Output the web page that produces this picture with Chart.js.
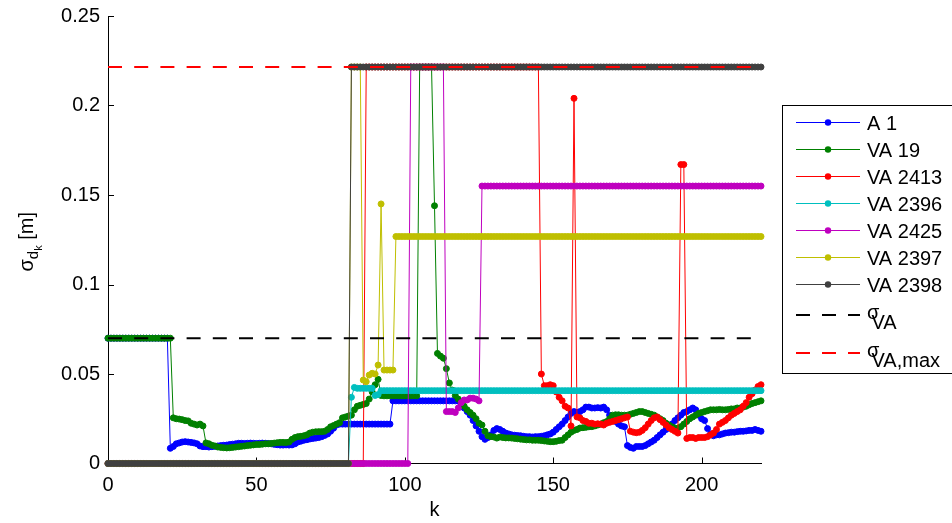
<!DOCTYPE html>
<html>
<head>
<meta charset="utf-8">
<script src="https://cdn.jsdelivr.net/npm/chart.js@4.4.1/dist/chart.umd.min.js"></script>
<style>
  html, body { margin: 0; padding: 0; background: #fff; }
  #chart { display: block; }
</style>
</head>
<body>
<canvas id="chart" width="952" height="523"></canvas>
<script>
// distance std dev per anchor, one value per step k = 0..220
const xTicks = [0, 50, 100, 150, 200];
const yTicks = [0, 0.05, 0.1, 0.15, 0.2, 0.25];

const sigmaVA = 0.07;
const sigmaVAmax = 0.2215;

const names = ['A 1', 'VA 19', 'VA 2413', 'VA 2396', 'VA 2425', 'VA 2397', 'VA 2398'];
const colors = ['#0000ff', '#008000', '#ff0000', '#00bfbf', '#bf00bf', '#bfbf00', '#404040'];

const a1 = [
  0.07, 0.07, 0.07, 0.07, 0.07, 0.07, 0.07, 0.07, 0.07, 0.07,
  0.07, 0.07, 0.07, 0.07, 0.07, 0.07, 0.07, 0.07, 0.07, 0.07,
  0.07, 0.0085, 0.0095, 0.011, 0.0115, 0.012, 0.0122, 0.012, 0.0118, 0.0115,
  0.011, 0.0098, 0.0094, 0.0094, 0.0092, 0.0094, 0.0096, 0.0098, 0.010, 0.0102,
  0.0103, 0.0106, 0.0108, 0.011, 0.0113, 0.0113, 0.0112, 0.0113, 0.0114, 0.0113,
  0.0112, 0.0113, 0.0114, 0.0113, 0.0112, 0.011, 0.0107, 0.0105, 0.0103, 0.0103,
  0.0104, 0.0103, 0.0104, 0.011, 0.012, 0.0125, 0.013, 0.0133, 0.0137, 0.014,
  0.0142, 0.0145, 0.015, 0.0157, 0.0165, 0.018, 0.0197, 0.0215, 0.022, 0.022,
  0.022, 0.022, 0.022, 0.022, 0.022, 0.022, 0.022, 0.022, 0.022, 0.022,
  0.022, 0.022, 0.022, 0.022, 0.022, 0.022, 0.035, 0.035, 0.035, 0.035,
  0.035, 0.035, 0.035, 0.035, 0.035, 0.035, 0.035, 0.035, 0.035, 0.035,
  0.035, 0.035, 0.035, 0.035, 0.035, 0.035, 0.035, 0.035, 0.035, 0.033,
  0.031, 0.029, 0.027, 0.024, 0.021, 0.018, 0.015, 0.0135, 0.0145, 0.016,
  0.0185, 0.0195, 0.019, 0.018, 0.017, 0.0165, 0.016, 0.0158, 0.0156, 0.0155,
  0.0152, 0.015, 0.015, 0.0148, 0.015, 0.015, 0.0152, 0.0155, 0.016, 0.0165,
  0.0175, 0.019, 0.0205, 0.022, 0.024, 0.026, 0.028, 0.029, 0.0285, 0.029,
  0.030, 0.0315, 0.0315, 0.031, 0.031, 0.0312, 0.031, 0.0315, 0.030, 0.027,
  0.025, 0.0235, 0.022, 0.021, 0.0205, 0.010, 0.009, 0.0085, 0.0095, 0.0095,
  0.0095, 0.010, 0.011, 0.012, 0.013, 0.0145, 0.016, 0.0175, 0.019, 0.0205,
  0.022, 0.024, 0.0255, 0.027, 0.0285, 0.029, 0.030, 0.031, 0.030, 0.027,
  0.025, 0.024, 0.0195, 0.0165, 0.0155, 0.016, 0.016, 0.0165, 0.017, 0.0172,
  0.0175, 0.0175, 0.0178, 0.018, 0.018, 0.0182, 0.0185, 0.0185, 0.019, 0.0185,
  0.018
];

const va19 = [
  0.07, 0.07, 0.07, 0.07, 0.07, 0.07, 0.07, 0.07, 0.07, 0.07,
  0.07, 0.07, 0.07, 0.07, 0.07, 0.07, 0.07, 0.07, 0.07, 0.07,
  0.07, 0.07, 0.0255, 0.025, 0.0248, 0.0245, 0.024, 0.0238, 0.0225, 0.022,
  0.0215, 0.022, 0.021, 0.0115, 0.011, 0.0102, 0.0098, 0.0092, 0.009, 0.0088,
  0.0087, 0.0088, 0.009, 0.0092, 0.0094, 0.0096, 0.0098, 0.010, 0.0102, 0.0104,
  0.0106, 0.0106, 0.0108, 0.011, 0.011, 0.0112, 0.0114, 0.0116, 0.0118, 0.0118,
  0.0117, 0.012, 0.0135, 0.0145, 0.015, 0.0152, 0.0155, 0.016, 0.017, 0.0175,
  0.0177, 0.0178, 0.0178, 0.018, 0.019, 0.0205, 0.0212, 0.022, 0.0228, 0.0255,
  0.026, 0.0265, 0.027, 0.030, 0.032, 0.0325, 0.033, 0.0335, 0.036, 0.040,
  0.044, 0.047, 0.038, 0.0378, 0.0378, 0.0378, 0.0378, 0.0378, 0.0378, 0.0378,
  0.0378, 0.0378, 0.0378, 0.0378, 0.0378, 0.2215, 0.2215, 0.2215, 0.2215, 0.2215,
  0.144, 0.0615, 0.060, 0.0588, 0.053, 0.045, 0.041, 0.038, 0.036, 0.034,
  0.032, 0.030, 0.0285, 0.027, 0.025, 0.0225, 0.0215, 0.018, 0.0155, 0.015,
  0.0148, 0.0142, 0.0148, 0.0145, 0.0143, 0.0143, 0.0142, 0.014, 0.0138, 0.0136,
  0.0134, 0.0132, 0.0132, 0.013, 0.013, 0.013, 0.0128, 0.0126, 0.0124, 0.0122,
  0.0122, 0.0124, 0.0128, 0.013, 0.0145, 0.016, 0.0175, 0.0185, 0.019, 0.0198,
  0.020, 0.0202, 0.0205, 0.0206, 0.021, 0.0215, 0.022, 0.0228, 0.0234, 0.025,
  0.027, 0.0272, 0.0272, 0.027, 0.027, 0.027, 0.0275, 0.028, 0.0285, 0.029,
  0.029, 0.0285, 0.028, 0.0275, 0.027, 0.026, 0.025, 0.024, 0.0225, 0.0215,
  0.0205, 0.0198, 0.0198, 0.0206, 0.022, 0.0235, 0.025, 0.026, 0.027, 0.028,
  0.0285, 0.029, 0.0295, 0.030, 0.030, 0.030, 0.0302, 0.030, 0.030, 0.0302,
  0.0305, 0.0305, 0.031, 0.031, 0.0315, 0.032, 0.0328, 0.0335, 0.034, 0.0345,
  0.035
];

const va2413 = [
  0, 0, 0, 0, 0, 0, 0, 0, 0, 0,
  0, 0, 0, 0, 0, 0, 0, 0, 0, 0,
  0, 0, 0, 0, 0, 0, 0, 0, 0, 0,
  0, 0, 0, 0, 0, 0, 0, 0, 0, 0,
  0, 0, 0, 0, 0, 0, 0, 0, 0, 0,
  0, 0, 0, 0, 0, 0, 0, 0, 0, 0,
  0, 0, 0, 0, 0, 0, 0, 0, 0, 0,
  0, 0, 0, 0, 0, 0, 0, 0, 0, 0,
  0, 0, 0, 0, 0, 0, 0, 0.2215, 0.2215, 0.2215,
  0.2215, 0.2215, 0.2215, 0.2215, 0.2215, 0.2215, 0.2215, 0.2215, 0.2215, 0.2215,
  0.2215, 0.2215, 0.2215, 0.2215, 0.2215, 0.2215, 0.2215, 0.2215, 0.2215, 0.2215,
  0.2215, 0.2215, 0.2215, 0.2215, 0.2215, 0.2215, 0.2215, 0.2215, 0.2215, 0.2215,
  0.2215, 0.2215, 0.2215, 0.2215, 0.2215, 0.2215, 0.2215, 0.2215, 0.2215, 0.2215,
  0.2215, 0.2215, 0.2215, 0.2215, 0.2215, 0.2215, 0.2215, 0.2215, 0.2215, 0.2215,
  0.2215, 0.2215, 0.2215, 0.2215, 0.2215, 0.2215, 0.050, 0.0435, 0.0435, 0.044,
  0.0435, 0.040, 0.037, 0.035, 0.032, 0.031, 0.021, 0.204, 0.026, 0.0255,
  0.024, 0.0235, 0.0225, 0.0225, 0.022, 0.0222, 0.022, 0.0215, 0.0225, 0.023,
  0.0235, 0.024, 0.0245, 0.025, 0.0255, 0.026, 0.018, 0.0175, 0.0172, 0.0175,
  0.0185, 0.020, 0.022, 0.024, 0.0255, 0.026, 0.0245, 0.023, 0.0215, 0.020,
  0.019, 0.018, 0.017, 0.167, 0.167, 0.014, 0.0145, 0.0145, 0.014, 0.0145,
  0.0145, 0.0145, 0.015, 0.016, 0.017, 0.019, 0.022, 0.023, 0.024, 0.0255,
  0.027, 0.028, 0.029, 0.030, 0.032, 0.034, 0.037, 0.039, 0.041, 0.043,
  0.044
];

const va2396 = [
  0, 0, 0, 0, 0, 0, 0, 0, 0, 0,
  0, 0, 0, 0, 0, 0, 0, 0, 0, 0,
  0, 0, 0, 0, 0, 0, 0, 0, 0, 0,
  0, 0, 0, 0, 0, 0, 0, 0, 0, 0,
  0, 0, 0, 0, 0, 0, 0, 0, 0, 0,
  0, 0, 0, 0, 0, 0, 0, 0, 0, 0,
  0, 0, 0, 0, 0, 0, 0, 0, 0, 0,
  0, 0, 0, 0, 0, 0, 0, 0, 0, 0,
  0, 0, 0.037, 0.0425, 0.042, 0.042, 0.042, 0.042, 0.042, 0.042,
  0.038, 0.0385, 0.0407, 0.0407, 0.0407, 0.0407, 0.0407, 0.0407, 0.0407, 0.0407,
  0.0407, 0.0407, 0.0407, 0.0407, 0.0407, 0.0407, 0.0407, 0.0407, 0.0407, 0.0407,
  0.0407, 0.0407, 0.0407, 0.0407, 0.0407, 0.0407, 0.0407, 0.0407, 0.0407, 0.0407,
  0.0407, 0.0407, 0.0407, 0.0407, 0.0407, 0.0407, 0.0407, 0.0407, 0.0407, 0.0407,
  0.0407, 0.0407, 0.0407, 0.0407, 0.0407, 0.0407, 0.0407, 0.0407, 0.0407, 0.0407,
  0.0407, 0.0407, 0.0407, 0.0407, 0.0407, 0.0407, 0.0407, 0.0407, 0.0407, 0.0407,
  0.0407, 0.0407, 0.0407, 0.0407, 0.0407, 0.0407, 0.0407, 0.0407, 0.0407, 0.0407,
  0.0407, 0.0407, 0.0407, 0.0407, 0.0407, 0.0407, 0.0407, 0.0407, 0.0407, 0.0407,
  0.0407, 0.0407, 0.0407, 0.0407, 0.0407, 0.0407, 0.0407, 0.0407, 0.0407, 0.0407,
  0.0407, 0.0407, 0.0407, 0.0407, 0.0407, 0.0407, 0.0407, 0.0407, 0.0407, 0.0407,
  0.0407, 0.0407, 0.0407, 0.0407, 0.0407, 0.0407, 0.0407, 0.0407, 0.0407, 0.0407,
  0.0407, 0.0407, 0.0407, 0.0407, 0.0407, 0.0407, 0.0407, 0.0407, 0.0407, 0.0407,
  0.0407, 0.0407, 0.0407, 0.0407, 0.0407, 0.0407, 0.0407, 0.0407, 0.0407, 0.0407,
  0.0407
];

const va2425 = [
  0, 0, 0, 0, 0, 0, 0, 0, 0, 0,
  0, 0, 0, 0, 0, 0, 0, 0, 0, 0,
  0, 0, 0, 0, 0, 0, 0, 0, 0, 0,
  0, 0, 0, 0, 0, 0, 0, 0, 0, 0,
  0, 0, 0, 0, 0, 0, 0, 0, 0, 0,
  0, 0, 0, 0, 0, 0, 0, 0, 0, 0,
  0, 0, 0, 0, 0, 0, 0, 0, 0, 0,
  0, 0, 0, 0, 0, 0, 0, 0, 0, 0,
  0, 0, 0, 0, 0, 0, 0, 0, 0, 0,
  0, 0, 0, 0, 0, 0, 0, 0, 0, 0,
  0, 0, 0.2215, 0.2215, 0.2215, 0.2215, 0.2215, 0.2215, 0.2215, 0.2215,
  0.2215, 0.2215, 0.2215, 0.2215, 0.029, 0.029, 0.029, 0.0285, 0.031, 0.034,
  0.0355, 0.0355, 0.0365, 0.0365, 0.036, 0.035, 0.155, 0.155, 0.155, 0.155,
  0.155, 0.155, 0.155, 0.155, 0.155, 0.155, 0.155, 0.155, 0.155, 0.155,
  0.155, 0.155, 0.155, 0.155, 0.155, 0.155, 0.155, 0.155, 0.155, 0.155,
  0.155, 0.155, 0.155, 0.155, 0.155, 0.155, 0.155, 0.155, 0.155, 0.155,
  0.155, 0.155, 0.155, 0.155, 0.155, 0.155, 0.155, 0.155, 0.155, 0.155,
  0.155, 0.155, 0.155, 0.155, 0.155, 0.155, 0.155, 0.155, 0.155, 0.155,
  0.155, 0.155, 0.155, 0.155, 0.155, 0.155, 0.155, 0.155, 0.155, 0.155,
  0.155, 0.155, 0.155, 0.155, 0.155, 0.155, 0.155, 0.155, 0.155, 0.155,
  0.155, 0.155, 0.155, 0.155, 0.155, 0.155, 0.155, 0.155, 0.155, 0.155,
  0.155, 0.155, 0.155, 0.155, 0.155, 0.155, 0.155, 0.155, 0.155, 0.155,
  0.155
];

const va2397 = [
  0, 0, 0, 0, 0, 0, 0, 0, 0, 0,
  0, 0, 0, 0, 0, 0, 0, 0, 0, 0,
  0, 0, 0, 0, 0, 0, 0, 0, 0, 0,
  0, 0, 0, 0, 0, 0, 0, 0, 0, 0,
  0, 0, 0, 0, 0, 0, 0, 0, 0, 0,
  0, 0, 0, 0, 0, 0, 0, 0, 0, 0,
  0, 0, 0, 0, 0, 0, 0, 0, 0, 0,
  0, 0, 0, 0, 0, 0, 0, 0, 0, 0,
  0, 0, 0.2215, 0.2215, 0.2215, 0.2215, 0.0466, 0.0457, 0.0494, 0.0504,
  0.050, 0.055, 0.145, 0.0522, 0.0522, 0.0522, 0.0522, 0.1268, 0.1268, 0.1268,
  0.1268, 0.1268, 0.1268, 0.1268, 0.1268, 0.1268, 0.1268, 0.1268, 0.1268, 0.1268,
  0.1268, 0.1268, 0.1268, 0.1268, 0.1268, 0.1268, 0.1268, 0.1268, 0.1268, 0.1268,
  0.1268, 0.1268, 0.1268, 0.1268, 0.1268, 0.1268, 0.1268, 0.1268, 0.1268, 0.1268,
  0.1268, 0.1268, 0.1268, 0.1268, 0.1268, 0.1268, 0.1268, 0.1268, 0.1268, 0.1268,
  0.1268, 0.1268, 0.1268, 0.1268, 0.1268, 0.1268, 0.1268, 0.1268, 0.1268, 0.1268,
  0.1268, 0.1268, 0.1268, 0.1268, 0.1268, 0.1268, 0.1268, 0.1268, 0.1268, 0.1268,
  0.1268, 0.1268, 0.1268, 0.1268, 0.1268, 0.1268, 0.1268, 0.1268, 0.1268, 0.1268,
  0.1268, 0.1268, 0.1268, 0.1268, 0.1268, 0.1268, 0.1268, 0.1268, 0.1268, 0.1268,
  0.1268, 0.1268, 0.1268, 0.1268, 0.1268, 0.1268, 0.1268, 0.1268, 0.1268, 0.1268,
  0.1268, 0.1268, 0.1268, 0.1268, 0.1268, 0.1268, 0.1268, 0.1268, 0.1268, 0.1268,
  0.1268, 0.1268, 0.1268, 0.1268, 0.1268, 0.1268, 0.1268, 0.1268, 0.1268, 0.1268,
  0.1268, 0.1268, 0.1268, 0.1268, 0.1268, 0.1268, 0.1268, 0.1268, 0.1268, 0.1268,
  0.1268, 0.1268, 0.1268, 0.1268, 0.1268, 0.1268, 0.1268, 0.1268, 0.1268, 0.1268,
  0.1268
];

const va2398 = [
  0, 0, 0, 0, 0, 0, 0, 0, 0, 0,
  0, 0, 0, 0, 0, 0, 0, 0, 0, 0,
  0, 0, 0, 0, 0, 0, 0, 0, 0, 0,
  0, 0, 0, 0, 0, 0, 0, 0, 0, 0,
  0, 0, 0, 0, 0, 0, 0, 0, 0, 0,
  0, 0, 0, 0, 0, 0, 0, 0, 0, 0,
  0, 0, 0, 0, 0, 0, 0, 0, 0, 0,
  0, 0, 0, 0, 0, 0, 0, 0, 0, 0,
  0, 0, 0.2215, 0.2215, 0.2215, 0.2215, 0.2215, 0.2215, 0.2215, 0.2215,
  0.2215, 0.2215, 0.2215, 0.2215, 0.2215, 0.2215, 0.2215, 0.2215, 0.2215, 0.2215,
  0.2215, 0.2215, 0.2215, 0.2215, 0.2215, 0.2215, 0.2215, 0.2215, 0.2215, 0.2215,
  0.2215, 0.2215, 0.2215, 0.2215, 0.2215, 0.2215, 0.2215, 0.2215, 0.2215, 0.2215,
  0.2215, 0.2215, 0.2215, 0.2215, 0.2215, 0.2215, 0.2215, 0.2215, 0.2215, 0.2215,
  0.2215, 0.2215, 0.2215, 0.2215, 0.2215, 0.2215, 0.2215, 0.2215, 0.2215, 0.2215,
  0.2215, 0.2215, 0.2215, 0.2215, 0.2215, 0.2215, 0.2215, 0.2215, 0.2215, 0.2215,
  0.2215, 0.2215, 0.2215, 0.2215, 0.2215, 0.2215, 0.2215, 0.2215, 0.2215, 0.2215,
  0.2215, 0.2215, 0.2215, 0.2215, 0.2215, 0.2215, 0.2215, 0.2215, 0.2215, 0.2215,
  0.2215, 0.2215, 0.2215, 0.2215, 0.2215, 0.2215, 0.2215, 0.2215, 0.2215, 0.2215,
  0.2215, 0.2215, 0.2215, 0.2215, 0.2215, 0.2215, 0.2215, 0.2215, 0.2215, 0.2215,
  0.2215, 0.2215, 0.2215, 0.2215, 0.2215, 0.2215, 0.2215, 0.2215, 0.2215, 0.2215,
  0.2215, 0.2215, 0.2215, 0.2215, 0.2215, 0.2215, 0.2215, 0.2215, 0.2215, 0.2215,
  0.2215, 0.2215, 0.2215, 0.2215, 0.2215, 0.2215, 0.2215, 0.2215, 0.2215, 0.2215,
  0.2215
];

const series = [a1, va19, va2413, va2396, va2425, va2397, va2398];
const kLast = a1.length - 1;

const FONT = '"Liberation Sans", Arial, Helvetica, sans-serif';

const datasets = series.map((vals, i) => ({
  label: names[i],
  data: vals.map((v, k) => ({ x: k, y: v })),
  borderColor: colors[i],
  backgroundColor: colors[i],
  pointBackgroundColor: colors[i],
  pointBorderColor: colors[i],
  borderWidth: 1,
  pointRadius: 3,
  pointBorderWidth: 1,
  pointHoverRadius: 3,
  // later series paint over earlier ones
  order: 20 - i,
  clip: false
}));

const refLine = (label, value, color, order) => ({
  label,
  data: [{ x: 0, y: value }, { x: kLast, y: value }],
  borderColor: color,
  borderWidth: 2,
  borderDash: [14, 12.2],
  pointRadius: 0,
  order,
  clip: false
});
datasets.push(refLine('sigmaVA', sigmaVA, '#000000', 2));
datasets.push(refLine('sigmaVAmax', sigmaVAmax, '#ff0000', 1));

// inward tick marks, axis titles and the boxed legend
const decor = {
  id: 'decor',
  beforeDatasetsDraw(chart) {
    const { ctx, chartArea: a, scales: { x, y } } = chart;
    ctx.save();
    ctx.strokeStyle = '#000';
    ctx.lineWidth = 1;
    ctx.beginPath();
    xTicks.forEach(v => {
      const px = Math.round(x.getPixelForValue(v)) + 0.5;
      ctx.moveTo(px, a.bottom);
      ctx.lineTo(px, a.bottom - 6);
    });
    yTicks.forEach(v => {
      const py = Math.round(y.getPixelForValue(v)) + 0.5;
      ctx.moveTo(a.left, py);
      ctx.lineTo(a.left + 6, py);
    });
    ctx.stroke();
    ctx.restore();
  },
  afterDraw(chart) {
    const { ctx, chartArea: a } = chart;
    ctx.save();
    ctx.fillStyle = '#000';
    ctx.textBaseline = 'alphabetic';

    // x title
    ctx.font = `20px ${FONT}`;
    ctx.textAlign = 'center';
    ctx.fillText('k', (a.left + a.right) / 2, 516);

    // y title: sigma with nested subscripts
    ctx.textAlign = 'left';
    const parts = [
      { t: 'σ', size: 20, dy: 0 },
      { t: 'd', size: 15, dy: 5 },
      { t: 'k', size: 11, dy: 9 },
      { t: ' [m]', size: 20, dy: 0 }
    ];
    let total = 0;
    parts.forEach(p => { ctx.font = `${p.size}px ${FONT}`; total += ctx.measureText(p.t).width; });
    ctx.save();
    ctx.translate(33, (a.top + a.bottom) / 2 + 2);
    ctx.rotate(-Math.PI / 2);
    let cx = -total / 2;
    parts.forEach(p => {
      ctx.font = `${p.size}px ${FONT}`;
      ctx.fillText(p.t, cx, p.dy);
      cx += ctx.measureText(p.t).width;
    });
    ctx.restore();

    // legend
    const lx = 782.5, ly = 105.5;
    ctx.strokeStyle = '#000';
    ctx.lineWidth = 1;
    ctx.strokeRect(lx, ly, 200, 268);

    const x0 = 796, x1 = 860, tx = 867;
    names.forEach((name, i) => {
      const ry = 122.5 + 27 * i;
      ctx.strokeStyle = colors[i];
      ctx.lineWidth = 1;
      ctx.beginPath();
      ctx.moveTo(x0, ry);
      ctx.lineTo(x1, ry);
      ctx.stroke();
      ctx.fillStyle = colors[i];
      ctx.beginPath();
      ctx.arc((x0 + x1) / 2, ry, 3.2, 0, Math.PI * 2);
      ctx.fill();
      ctx.fillStyle = '#000';
      ctx.font = `20px ${FONT}`;
      ctx.fillText(name, tx, ry + 7);
    });

    const sigmaEntry = (ry, color, sub) => {
      ctx.strokeStyle = color;
      ctx.lineWidth = 2;
      ctx.setLineDash([14, 12]);
      ctx.beginPath();
      ctx.moveTo(x0, ry);
      ctx.lineTo(x1, ry);
      ctx.stroke();
      ctx.setLineDash([]);
      ctx.fillStyle = '#000';
      ctx.font = `20px ${FONT}`;
      ctx.fillText('σ', tx, ry + 4);
      ctx.fillText(sub, tx + 4.5, ry + 14);
    };
    sigmaEntry(315, '#000000', 'VA');
    sigmaEntry(353, '#ff0000', 'VA,max');

    ctx.restore();
  }
};

const tickFont = { family: FONT, size: 20 };

new Chart(document.getElementById('chart').getContext('2d'), {
  type: 'line',
  data: { datasets },
  options: {
    responsive: false,
    animation: false,
    events: [],
    layout: { padding: { left: 0, right: 191, top: 16, bottom: 0 } },
    plugins: {
      legend: { display: false },
      tooltip: { enabled: false }
    },
    scales: {
      x: {
        type: 'linear',
        min: 0,
        max: kLast,
        afterBuildTicks: s => { s.ticks = xTicks.map(v => ({ value: v })); },
        afterFit: s => { s.height = 59.5; s.paddingLeft = 0; s.paddingRight = 0; },
        grid: { display: false, drawTicks: false },
        border: { display: true, color: '#000', width: 1 },
        ticks: { color: '#000', font: tickFont, padding: 10, maxRotation: 0, autoSkip: false }
      },
      y: {
        type: 'linear',
        min: 0,
        max: 0.25,
        afterBuildTicks: s => { s.ticks = yTicks.map(v => ({ value: v })); },
        afterFit: s => { s.width = 108; s.paddingTop = 0; s.paddingBottom = 0; },
        grid: { display: false, drawTicks: false },
        border: { display: true, color: '#000', width: 1 },
        ticks: { color: '#000', font: tickFont, padding: 8, callback: v => String(v) }
      }
    }
  },
  plugins: [decor]
});
</script>
</body>
</html>
